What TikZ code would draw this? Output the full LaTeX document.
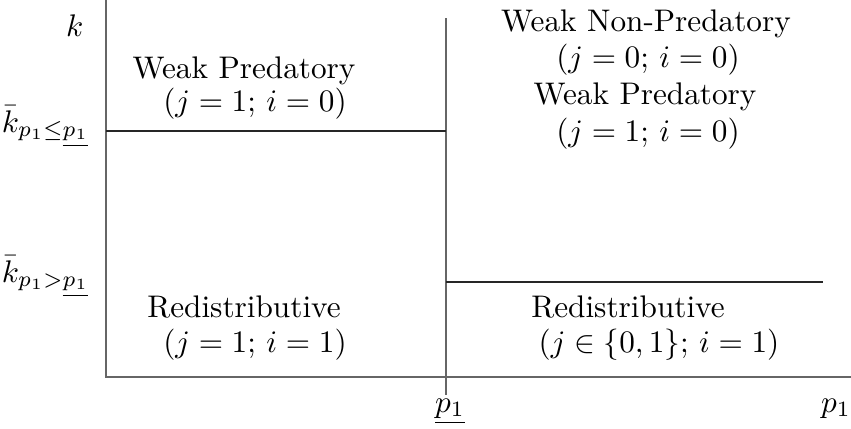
\documentclass[tikz,border=0pt]{standalone}
\begin{document}
\begin{tikzpicture}[x=0.32pt,y=-0.32pt,
  axis/.style={draw=black!60,line width=0.4pt},
  divide/.style={draw=black!85,line width=0.4pt},
  lbl/.style={inner sep=0pt,anchor=base},
  ylbl/.style={inner sep=0pt,anchor=base east}]
\useasboundingbox (0,0) rectangle (851,429);
% axes
\coordinate (top) at (106,0);
\coordinate (origin) at (106,377);
\coordinate (xend) at (851,377);
\coordinate (mtop) at (446,18);
\coordinate (mbot) at (446,395);
\coordinate (lh1) at (106,131);
\coordinate (lh2) at (446,131);
\coordinate (rh1) at (446,282);
\coordinate (rh2) at (823,282);
\draw[axis] (top) -- (origin) -- (xend);
\draw[axis] (mtop) -- (mbot);
\draw[divide] (lh1) -- (lh2);
\draw[divide] (rh1) -- (rh2);
% axis labels
\node[ylbl] (k) at (84,37) {$k$};
\node[ylbl] (kle) at (90,132) {$\bar{k}_{p_1\leq\underline{p_1}}$};
\node[ylbl] (kgt) at (90,282) {$\bar{k}_{p_1>\underline{p_1}}$};
\node[lbl] (pu) at (450,412) {$\underline{p_1}$};
\node[lbl] (p1) at (836,412) {$p_1$};
% regions
\node[lbl] (wpA) at (244,78) {Weak Predatory};
\node[lbl] (wpB) at (255,112) {$(j=1;\, i=0)$};
\node[lbl] (wnA) at (646,32) {Weak Non-Predatory};
\node[lbl] (wnB) at (648,68) {$(j=0;\, i=0)$};
\node[lbl] (wpC) at (645,104) {Weak Predatory};
\node[lbl] (wpD) at (648,141) {$(j=1;\, i=0)$};
\node[lbl] (rdA) at (244,317) {Redistributive};
\node[lbl] (rdB) at (255,352) {$(j=1;\, i=1)$};
\node[lbl] (rdC) at (628,317) {Redistributive};
\node[lbl] (rdD) at (659,352) {$(j\in\{0,1\};\, i=1)$};
\end{tikzpicture}
\end{document}
